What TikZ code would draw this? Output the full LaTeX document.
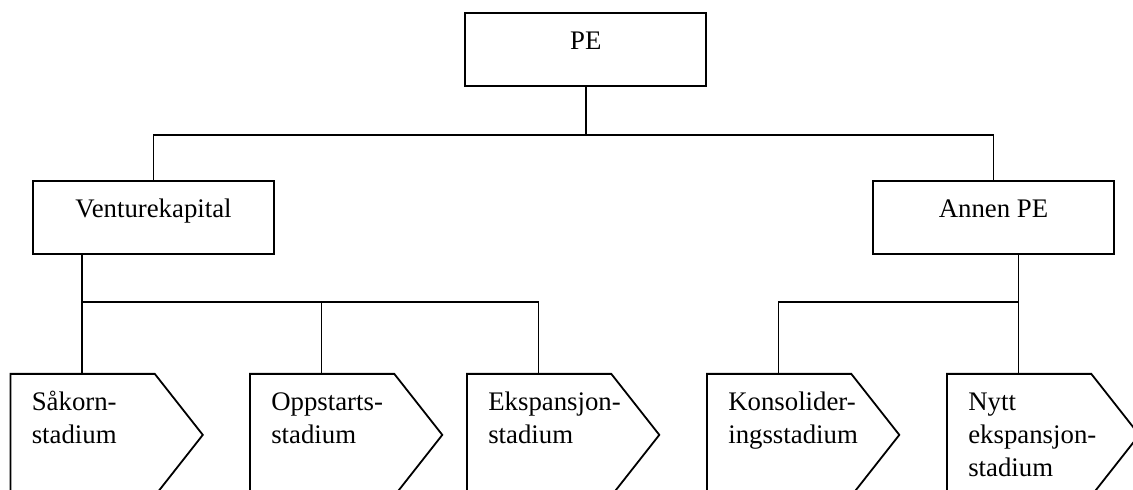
\documentclass[tikz,border=0pt]{standalone}
\usepackage{fontspec}
\setmainfont{Liberation Serif}
\usetikzlibrary{shapes.symbols,calc}

\begin{document}
\begin{tikzpicture}[x=0.5pt, y=-0.5pt, line width=0.9pt,
                    font=\fontsize{13.4}{16.5}\selectfont,
                    box/.style={draw, rectangle, minimum width=120.5pt, inner ysep=0pt, text height=18pt, text depth=18.25pt},
                    stage/.style={draw, signal, signal to=east, signal pointer angle=103.6, minimum width=96.2pt, minimum height=61pt, inner sep=0pt, anchor=north west},
                    stagetext/.style={anchor=north west, inner sep=0pt, align=left}
]

\useasboundingbox (0,0) rectangle (1133,490);
\clip (0,0) rectangle (1133,490);

\node [box] at (585.8,49.5) (pe) {PE};
\node [box] at (153.5,217.5) (vk) {Venturekapital};
\node [box] at (993.5,217.5) (ape) {Annen PE};

\node [stage] at (9.5,373) (sakorn) {};
\node [stage] at (249,373) (oppstart) {};
\node [stage] at (466,373) (ekspansjon) {};
\node [stage] at (706,373) (konsolid) {};
\node [stage] at (946,373) (nytt) {};

\node [stagetext] at ($(sakorn.north west)+(21.4,0)$) (sakorn-txt) {\rule{0pt}{18.5pt}Såkorn-\\stadium};
\node [stagetext] at ($(oppstart.north west)+(21.4,0)$) (oppstart-txt) {\rule{0pt}{18.5pt}Oppstarts-\\stadium};
\node [stagetext] at ($(ekspansjon.north west)+(21.4,0)$) (ekspansjon-txt) {\rule{0pt}{18.5pt}Ekspansjon-\\stadium};
\node [stagetext] at ($(konsolid.north west)+(21.4,0)$) (konsolid-txt) {\rule{0pt}{18.5pt}Konsolider-\\ingsstadium};
\node [stagetext] at ($(nytt.north west)+(21.4,0)$) (nytt-txt) {\rule{0pt}{18.5pt}Nytt\\ekspansjon-\\stadium};

\coordinate (sakorn-top) at ($(sakorn.north west)+(72.5,0)$);
\coordinate (oppstart-top) at ($(oppstart.north west)+(72.5,0)$);
\coordinate (ekspansjon-top) at ($(ekspansjon.north west)+(72.5,0)$);
\coordinate (konsolid-top) at ($(konsolid.north west)+(72.5,0)$);
\coordinate (nytt-top) at ($(nytt.north west)+(72.5,0)$);
\coordinate (bus1) at ($(pe.south)+(0,48)$);
\coordinate (bus2) at ($(vk.south)+(0,47.7)$);

\draw (pe.south) -- (bus1);
\draw (vk.north) |- (bus1) -| (ape.north);
\draw (vk.south -| sakorn-top) -- (sakorn-top);
\draw (sakorn-top |- bus2) -| (ekspansjon-top);
\draw (oppstart-top |- bus2) -- (oppstart-top);
\draw (ape.south -| nytt-top) -- (nytt-top);
\draw (nytt-top |- bus2) -| (konsolid-top);

\end{tikzpicture}
\end{document}
